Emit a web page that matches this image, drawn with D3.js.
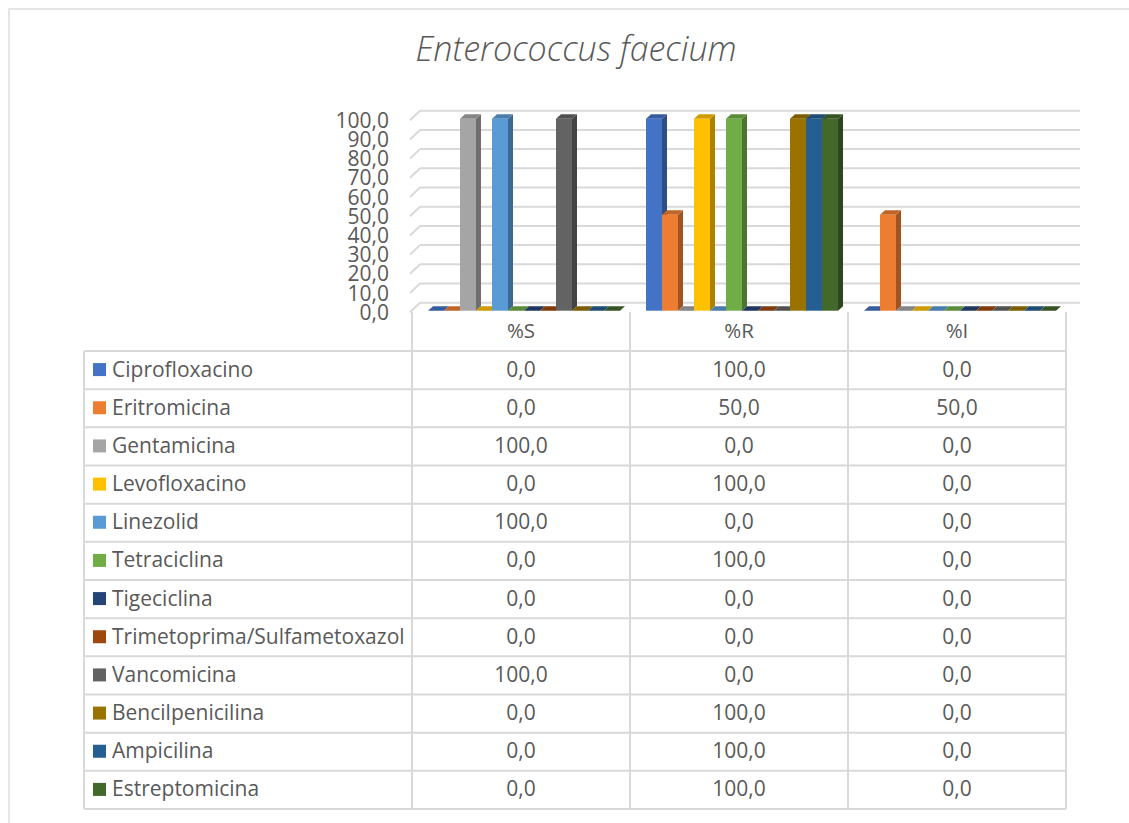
<!DOCTYPE html>
<html>
<head>
<meta charset="utf-8">
<script src="https://cdn.jsdelivr.net/npm/d3@7"></script>
<style>
  html, body { margin: 0; padding: 0; background: #fff; }
  svg { display: block; }
  text { font-family: "Open Sans", "Noto Sans", sans-serif; fill: #595959; }
</style>
</head>
<body>
<svg id="chart" width="1129" height="823"></svg>
<script>
// Susceptibility results, one value per antibiotic for each category
const categories = ["%S", "%R", "%I"];
const antibiotics = [
  "Ciprofloxacino", "Eritromicina", "Gentamicina", "Levofloxacino", "Linezolid",
  "Tetraciclina", "Tigeciclina", "Trimetoprima/Sulfametoxazol", "Vancomicina",
  "Bencilpenicilina", "Ampicilina", "Estreptomicina"
];
const colors = [
  "#4472C4", "#ED7D31", "#A5A5A5", "#FFC000", "#5B9BD5", "#70AD47",
  "#264478", "#9E480E", "#636363", "#997300", "#255E91", "#43682B"
];
const pctS = [0, 0, 100, 0, 100, 0, 0, 0, 100, 0, 0, 0];
const pctR = [100, 50, 0, 100, 0, 100, 0, 0, 0, 100, 100, 100];
const pctI = [0, 50, 0, 0, 0, 0, 0, 0, 0, 0, 0, 0];
const yTicks = [0, 10, 20, 30, 40, 50, 60, 70, 80, 90, 100];
const title = "Enterococcus faecium";

const valuesByCategory = [pctS, pctR, pctI];
const fmt = v => v.toFixed(1).replace(".", ",");

const svg = d3.select("#chart");
const grid = "#d9d9d9";

// chart frame
svg.append("rect").attr("x", 9).attr("y", 9).attr("width", 1140).attr("height", 830)
  .attr("fill", "none").attr("stroke", grid).attr("stroke-width", 1.3);

// title
svg.append("text").attr("x", 576).attr("y", 61).attr("text-anchor", "middle")
  .style("font-size", "34px").style("font-style", "italic").style("font-weight", 300)
  .text(title);

// plot geometry (front plane of the 3D box and its depth offset)
const tableLeft = 84, labelColRight = 412, tableRight = 1066;
const depthX = 10, depthY = -9.5;
const x = d3.scaleBand().domain(categories).range([labelColRight, tableRight]);
const y = d3.scaleLinear().domain([0, 100]).range([312.2, 120.2]);
const xs = d3.scaleBand().domain(antibiotics).range([16, 208]);

// back wall gridlines and side wall diagonals
const walls = svg.append("g").attr("stroke", grid).attr("stroke-width", 2).attr("fill", "none");
yTicks.forEach(t => {
  walls.append("line")
    .attr("x1", 410 + depthX).attr("x2", tableRight + 4 + depthX)
    .attr("y1", y(t) + depthY).attr("y2", y(t) + depthY);
  walls.append("line")
    .attr("x1", 410).attr("x2", 410 + depthX)
    .attr("y1", y(t)).attr("y2", y(t) + depthY);
});

// y axis labels
svg.append("g").selectAll("text").data(yTicks).join("text")
  .attr("x", 389).attr("y", d => y(d)).attr("dy", "0.36em")
  .attr("text-anchor", "end").style("font-size", "21px")
  .text(fmt);

// 3D columns
const barOffY = -1.5;        // bar front face sits slightly behind the front plane
const bdx = 5, bdy = -4.5;   // bar depth
const bars = svg.append("g");
categories.forEach((cat, ci) => {
  antibiotics.forEach((ab, si) => {
    const v = valuesByCategory[ci][si];
    const x0 = x(cat) + xs(ab);
    const x1 = x0 + xs.bandwidth();
    const yb = y(0) + barOffY;
    const yt = y(v) + barOffY;
    const c = d3.color(colors[si]);
    const g = bars.append("g");
    if (v > 0) {
      g.append("path")
        .attr("d", `M${x1},${yt}L${x1 + bdx},${yt + bdy}L${x1 + bdx},${yb + bdy}L${x1},${yb}Z`)
        .attr("fill", c.darker(1.1));
    }
    g.append("path")
      .attr("d", `M${x0},${yt}L${x0 + bdx},${yt + bdy}L${x1 + bdx},${yt + bdy}L${x1},${yt}Z`)
      .attr("fill", c.darker(0.6));
    if (v > 0) {
      g.append("rect").attr("x", x0).attr("y", yt).attr("width", x1 - x0).attr("height", yb - yt)
        .attr("fill", c);
    }
  });
});

// data table
const headerTop = 312, rowTop = 351, rowH = (809 - 351) / antibiotics.length;
const tbl = svg.append("g").attr("stroke", grid).attr("stroke-width", 2);
// column separators
categories.forEach(cat => {
  tbl.append("line").attr("x1", x(cat)).attr("x2", x(cat))
    .attr("y1", headerTop).attr("y2", rowTop + rowH * antibiotics.length);
});
tbl.append("line").attr("x1", tableRight).attr("x2", tableRight)
  .attr("y1", headerTop).attr("y2", rowTop + rowH * antibiotics.length);
tbl.append("line").attr("x1", tableLeft).attr("x2", tableLeft)
  .attr("y1", rowTop).attr("y2", rowTop + rowH * antibiotics.length);
// row separators
d3.range(antibiotics.length + 1).forEach(i => {
  tbl.append("line").attr("x1", tableLeft).attr("x2", tableRight)
    .attr("y1", rowTop + i * rowH).attr("y2", rowTop + i * rowH);
});

// header labels
svg.append("g").selectAll("text").data(categories).join("text")
  .attr("x", d => x(d) + x.bandwidth() / 2).attr("y", (headerTop + rowTop) / 2 - 0.5)
  .attr("dy", "0.36em").attr("text-anchor", "middle").style("font-size", "20.5px")
  .text(d => d);

// rows: legend key, name, values
const rows = svg.append("g").selectAll("g").data(antibiotics).join("g")
  .attr("transform", (d, i) => `translate(0,${rowTop + i * rowH + rowH / 2})`);
rows.append("rect").attr("x", 93).attr("y", -7).attr("width", 13).attr("height", 13)
  .attr("fill", (d, i) => colors[i]);
rows.append("text").attr("x", 112).attr("y", -1).attr("dy", "0.36em")
  .style("font-size", "21px").text(d => d);
categories.forEach((cat, ci) => {
  rows.append("text").attr("x", x(cat) + x.bandwidth() / 2).attr("y", -1).attr("dy", "0.36em")
    .attr("text-anchor", "middle").style("font-size", "21px")
    .text((d, i) => fmt(valuesByCategory[ci][i]));
});
</script>
</body>
</html>
